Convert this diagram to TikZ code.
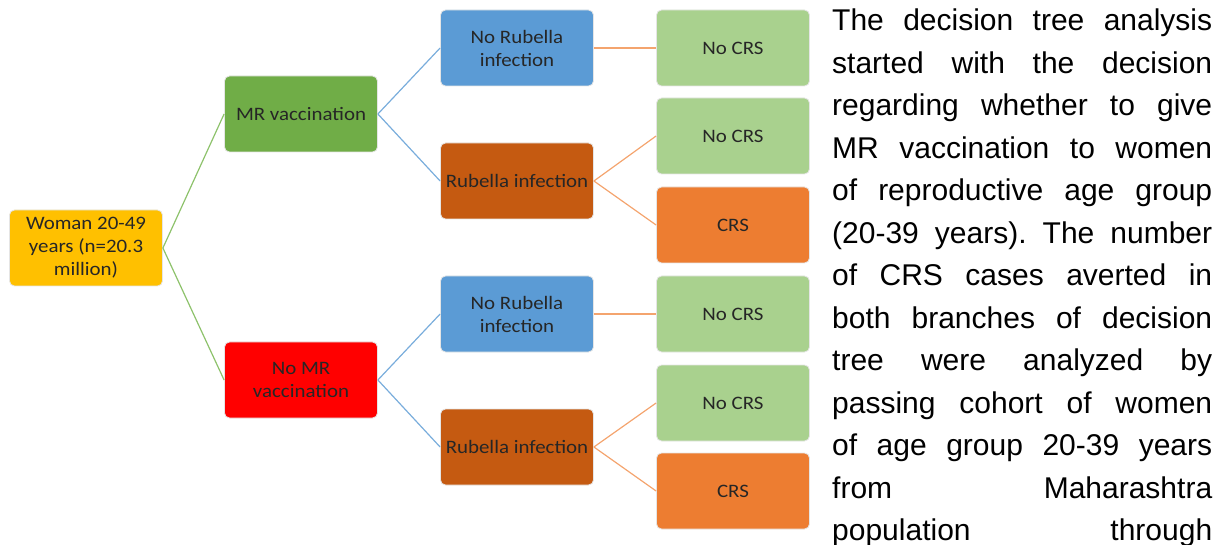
\documentclass[tikz,border=0pt]{standalone}
\usepackage{fontspec}
\newfontfamily\boxfont[FakeStretch=1.1]{Carlito}
\newfontfamily\bodyfont{Liberation Sans}
\definecolor{cRoot}{HTML}{FFC000}
\definecolor{cMR}{HTML}{70AD47}
\definecolor{cNoMR}{HTML}{FF0000}
\definecolor{cBlue}{HTML}{5B9BD5}
\definecolor{cRub}{HTML}{C55A11}
\definecolor{cLG}{HTML}{A9D18E}
\definecolor{cCRS}{HTML}{ED7D31}
\definecolor{eGreen}{HTML}{8DC26B}
\definecolor{eBlue}{HTML}{79ADDC}
\definecolor{eOrange}{HTML}{F4A46E}
\begin{document}
\begin{tikzpicture}[x=1pt,y=-1pt,
  box/.style={rounded corners=5pt, draw=black!10, line width=0.8pt,
    minimum width=153pt, minimum height=76pt, inner sep=2pt, align=center,
    text=black!85, font=\boxfont\fontsize{19}{23}\selectfont},
  egreen/.style={draw=eGreen, line width=1.2pt},
  eblue/.style={draw=eBlue, line width=1.2pt},
  eorange/.style={draw=eOrange, line width=1.2pt}]
\useasboundingbox (0,0) rectangle (1221,545);
\node[box, fill=cRoot] (root) at (86,248) {Woman 20-49\\years (n=20.3\\million)};
\node[box, fill=cMR] (mr) at (301,114) {MR vaccination};
\node[box, fill=cNoMR] (nomr) at (301,380) {No MR\\vaccination};
\node[box, fill=cBlue] (nr1) at (517,48) {No Rubella\\infection};
\node[box, fill=cRub] (r1) at (517,181) {Rubella infection};
\node[box, fill=cBlue] (nr2) at (517,314) {No Rubella\\infection};
\node[box, fill=cRub] (r2) at (517,447) {Rubella infection};
\node[box, fill=cLG] (a1) at (733,48) {No CRS};
\node[box, fill=cLG] (a2) at (733,136) {No CRS};
\node[box, fill=cCRS] (a3) at (733,225) {CRS};
\node[box, fill=cLG] (b1) at (733,314) {No CRS};
\node[box, fill=cLG] (b2) at (733,403) {No CRS};
\node[box, fill=cCRS] (b3) at (733,491) {CRS};
\draw[egreen] (root.east) -- (mr.west);
\draw[egreen] (root.east) -- (nomr.west);
\draw[eblue] (mr.east) -- (nr1.west);
\draw[eblue] (mr.east) -- (r1.west);
\draw[eblue] (nomr.east) -- (nr2.west);
\draw[eblue] (nomr.east) -- (r2.west);
\draw[eorange] (nr1.east) -- (a1.west);
\draw[eorange] (r1.east) -- (a2.west);
\draw[eorange] (r1.east) -- (a3.west);
\draw[eorange] (nr2.east) -- (b1.west);
\draw[eorange] (r2.east) -- (b2.west);
\draw[eorange] (r2.east) -- (b3.west);
\node[anchor=north west, inner sep=0pt, text width=380pt, align=justify,
  font=\bodyfont\fontsize{30}{42.5}\selectfont] (para) at (832,9)
{\tolerance=10000\hyphenpenalty=10000\frenchspacing
The decision tree analysis\linebreak
started with the decision\linebreak
regarding whether to give\linebreak
MR vaccination to women\linebreak
of reproductive age group\linebreak
(20-39 years). The number\linebreak
of CRS cases averted in\linebreak
both branches of decision\linebreak
tree were analyzed by\linebreak
passing cohort of women\linebreak
of age group 20-39 years\linebreak
from Maharashtra\linebreak
\makebox[\linewidth][s]{population through}};
\end{tikzpicture}
\end{document}
